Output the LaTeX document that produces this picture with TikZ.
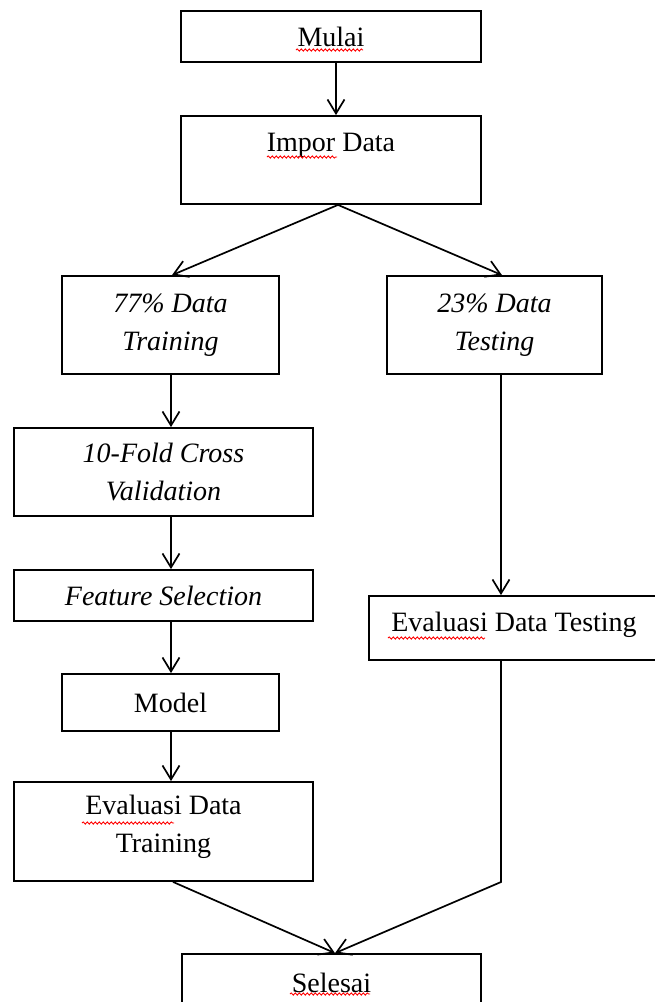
\documentclass[tikz,border=0pt]{standalone}
\usepackage{fontspec}
\setmainfont{Liberation Serif}
\usetikzlibrary{arrows.meta,decorations.pathmorphing}
\begin{document}
\begin{tikzpicture}[x=1pt,y=-1pt,
  box/.style={draw, line width=1.8pt, rectangle, inner sep=0pt, align=center, font=\fontsize{28}{38}\selectfont},
  lbl/.style={font=\fontsize{28}{38}\selectfont, align=center, inner sep=0pt},
  conn/.style={line width=1.7pt, -{Straight Barb[length=14pt,width=17pt]}},
  squig/.style={red, line width=0.9pt, decorate, decoration={snake, amplitude=1.1pt, segment length=4pt}}]
\useasboundingbox (0,0) rectangle (655,1002);
\fill[white] (0,0) rectangle (655,1002);

\node[box, minimum width=300pt, minimum height=51pt] (mulai) at (331,36.5) {Mulai};
\node[box, minimum width=300pt, minimum height=88pt, label={[lbl,yshift=15pt]center:Impor Data}] (impor) at (331,160) {};
\node[box, minimum width=217pt, minimum height=98pt] (train77) at (170.5,325) {\itshape 77\% Data\\\itshape Training};
\node[box, minimum width=215pt, minimum height=98pt] (test23) at (494.5,325) {\itshape 23\% Data\\\itshape Testing};
\node[box, minimum width=299pt, minimum height=88pt] (fold) at (163.5,472) {\itshape 10-Fold Cross\\\itshape Validation};
\node[box, minimum width=299pt, minimum height=51pt] (feat) at (163.5,595.5) {\itshape Feature Selection};
\node[box, minimum width=217pt, minimum height=57pt] (model) at (170.5,702.5) {Model};
\node[box, minimum width=299pt, minimum height=99pt, label={[lbl,yshift=5pt]center:Evaluasi Data\\Training}] (evtrain) at (163.5,831.5) {};
\node[box, minimum width=290pt, minimum height=64pt, label={[lbl,yshift=3pt]center:Evaluasi Data Testing}] (evtest) at (514,628) {};
\node[box, minimum width=299pt, minimum height=72pt, label={[lbl,yshift=7pt]center:Selesai}] (selesai) at (331.5,990) {};

% connectors
\coordinate (c1) at ([xshift=5pt]mulai.south);
\draw[conn] (c1) -- (c1 |- impor.north);
\coordinate (isplit) at ([xshift=7pt]impor.south);
\draw[conn] (isplit) -- ([xshift=1.5pt]train77.north);
\draw[conn] (isplit) -- ([xshift=7.5pt]test23.north);

\coordinate (lc) at (171,0);
\draw[conn] (train77.south -| lc) -- (fold.north -| lc);
\draw[conn] (fold.south -| lc) -- (feat.north -| lc);
\draw[conn] (feat.south -| lc) -- (model.north -| lc);
\draw[conn] (model.south -| lc) -- (evtrain.north -| lc);

\coordinate (rc) at (501,0);
\draw[conn] (test23.south -| rc) -- (evtest.north -| rc);
\coordinate (bend) at (501,882);
\draw[conn] (evtest.south -| rc) -- (bend) -- ([xshift=3.5pt]selesai.north);
\draw[conn] ([xshift=9.5pt]evtrain.south) -- ([xshift=3.5pt]selesai.north);

% spell-check underlines
\draw[squig] (296,50) -- (363,50);
\draw[squig] (267,157) -- (337,157);
\draw[squig] (388,638) -- (485,638);
\draw[squig] (82,823) -- (174,823);
\draw[squig] (290,994) -- (370,994);
\end{tikzpicture}
\end{document}
